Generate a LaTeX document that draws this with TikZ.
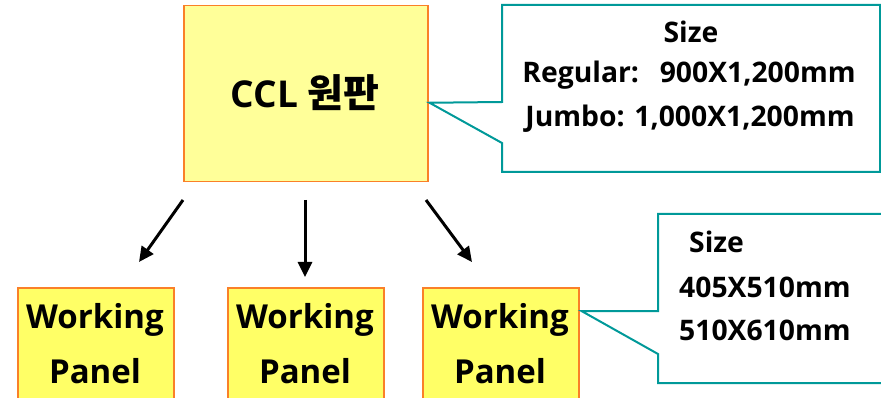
\documentclass[tikz,border=0pt]{standalone}
\usepackage{fontspec}
\setmainfont{Open Sans}
\newfontfamily\kr{Noto Sans CJK KR}
\usetikzlibrary{calc,arrows.meta}
\definecolor{boxorange}{RGB}{250,128,40}
\definecolor{cclfill}{RGB}{255,255,153}
\definecolor{panelfill}{RGB}{255,255,102}
\definecolor{teal}{RGB}{0,153,153}
\tikzset{
  cclbox/.style={draw=boxorange, fill=cclfill, line width=1.5pt, minimum width=244pt, minimum height=176pt, anchor=north west, inner sep=0pt},
  panelbox/.style={draw=boxorange, fill=panelfill, line width=1.5pt, minimum width=156pt, minimum height=140pt, anchor=north west, inner sep=0pt},
  calloutline/.style={draw=teal, line width=2pt, fill=white, line join=miter},
  arr/.style={line width=3pt, -{Triangle[length=15pt,width=14pt]}},
  panellabel/.style={font=\fontsize{33}{33}\selectfont\bfseries, anchor=base, inner sep=0pt},
  sizelabel/.style={font=\fontsize{28.3}{28.3}\selectfont\bfseries, inner sep=0pt},
}
\begin{document}
\begin{tikzpicture}[x=1pt,y=-1pt]
\useasboundingbox (0,0) rectangle (881,398);
\clip (0,0) rectangle (881,398);
% main board
\node[cclbox] (ccl) at (183,5) {};
\node[font=\fontsize{37}{37}\selectfont\bfseries, anchor=base, inner sep=0pt] (ccltext) at (305,108) {CCL {\kr\fontsize{39}{39}\selectfont 원판}};
% working panels
\node[panelbox] (p1) at (17,287) {};
\node[panelbox] (p2) at (227,287) {};
\node[panelbox] (p3) at (422,287) {};
\foreach \n/\x in {1/95,2/305,3/500}{
  \node[panellabel] (w\n) at (\x,328) {Working};
  \node[panellabel] (q\n) at (\x,383) {Panel};
}
% arrows
\coordinate (a1s) at (183,200); \coordinate (a1e) at (139,262);
\coordinate (a2s) at (305,200); \coordinate (a2e) at (305,277);
\coordinate (a3s) at (426,200); \coordinate (a3e) at (472,262);
\draw[arr] (a1s) -- (a1e);
\draw[arr] (a2s) -- (a2e);
\draw[arr] (a3s) -- (a3e);
% callout 1
\coordinate (c1tip) at ($(ccl.east)+(1,9)$);
\draw[calloutline] (502,5) -- (880,5) -- (880,172) -- (502,172) -- (502,143) -- (c1tip) -- (502,102) -- cycle;
\node[sizelabel, anchor=base] (s1) at (691,43) {Size};
\node[sizelabel, anchor=base] (s2) at (689,83) {Regular:\hspace{11pt} 900X1,200mm};
\node[sizelabel, anchor=base] (s3) at (690,127) {Jumbo: 1,000X1,200mm};
% callout 2
\coordinate (c2tip) at ($(p3.north east)+(2,24)$);
\draw[calloutline] (658,214) -- (895,214) -- (895,383) -- (658,383) -- (658,354) -- (c2tip) -- (658,311) -- cycle;
\node[sizelabel, anchor=base west] (t1) at (689,253) {Size};
\node[sizelabel, anchor=base west] (t2) at (679,297) {405X510mm};
\node[sizelabel, anchor=base west] (t3) at (679,340) {510X610mm};
\end{tikzpicture}
\end{document}
